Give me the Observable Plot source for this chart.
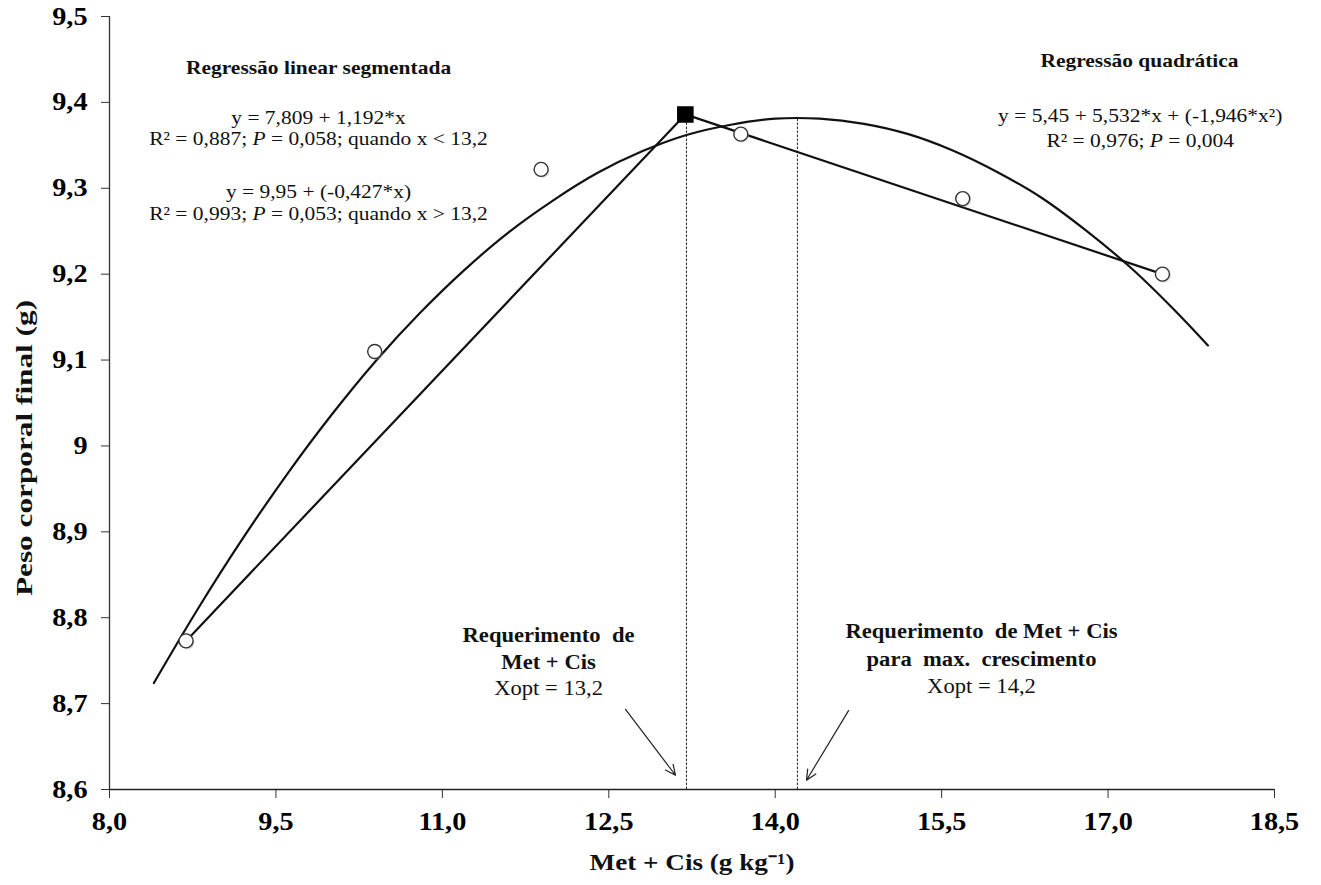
<!DOCTYPE html>
<html>
<head>
<meta charset="utf-8">
<script src="https://cdn.jsdelivr.net/npm/d3@7"></script>
<script src="https://cdn.jsdelivr.net/npm/@observablehq/plot@0.6"></script>
<style>
  html, body { margin: 0; padding: 0; background: #fff; }
  #chart svg { display: block; }
</style>
</head>
<body>
<div id="chart"></div>
<script>
// Observed data points (Met + Cis, g/kg ; final body weight, g)
const obsX = [8.69, 10.39, 11.89, 13.69, 15.69, 17.49];
const obsY = [8.773, 9.110, 9.322, 9.363, 9.288, 9.200];

// Segmented linear regression (break point = 13.2)
const segX = [8.69, 13.19, 17.49];
const segY = [8.773, 9.386, 9.200];
const breakX = [13.19];
const breakY = [9.386];

// Quadratic regression curve
const quadX = [8.4, 8.8, 9.2, 9.6, 10.0, 10.4, 10.8, 11.2, 11.6, 12.0, 12.4, 12.8, 13.2, 13.6, 14.0, 14.4, 14.8, 15.2, 15.6, 16.0, 16.4, 16.8, 17.2, 17.6, 17.9];
const quadY = [8.724, 8.811, 8.892, 8.967, 9.036, 9.099, 9.155, 9.205, 9.249, 9.286, 9.318, 9.343, 9.362, 9.374, 9.381, 9.381, 9.375, 9.363, 9.344, 9.319, 9.289, 9.251, 9.208, 9.158, 9.117];

// Optimum requirement lines
const optX = [13.2, 14.2];
const optTop = [9.386, 9.381];

// Ticks
const xTicks = [8.0, 9.5, 11.0, 12.5, 14.0, 15.5, 17.0, 18.5];
const xTickLabels = ["8,0", "9,5", "11,0", "12,5", "14,0", "15,5", "17,0", "18,5"];
const yTicks = [8.6, 8.7, 8.8, 8.9, 9.0, 9.1, 9.2, 9.3, 9.4, 9.5];
const yTickLabels = ["8,6", "8,7", "8,8", "8,9", "9", "9,1", "9,2", "9,3", "9,4", "9,5"];

const xTitle = "Met + Cis (g kg⁻¹)";
const yTitle = "Peso corporal final (g)";

const obs = obsX.map((x, i) => ({x, y: obsY[i]}));
const seg = segX.map((x, i) => ({x, y: segY[i]}));
const quad = quadX.map((x, i) => ({x, y: quadY[i]}));
const brk = breakX.map((x, i) => ({x, y: breakY[i]}));
const opt = optX.map((x, i) => ({x, top: optTop[i]}));

const serif = "'Liberation Serif', 'Times New Roman', serif";

const boldNotes = [
  {x: 9.884, y: 9.4406, t: "Regressão linear segmentada", s: 19},
  {x: 17.283, y: 9.4488, t: "Regressão quadrática", s: 19},
  {x: 11.957, y: 8.7796, t: "Requerimento  de", s: 20},
  {x: 11.957, y: 8.7481, t: "Met + Cis", s: 20},
  {x: 15.859, y: 8.7834, t: "Requerimento  de Met + Cis", s: 20},
  {x: 15.859, y: 8.7516, t: "para  max.  crescimento", s: 20}
];
const plainNotes = [
  {x: 9.884, y: 9.3825, t: "y = 7,809 + 1,192*x", s: 19},
  {x: 9.884, y: 9.358, t: "R² = 0,887; P = 0,058; quando x < 13,2", s: 19},
  {x: 9.884, y: 9.2963, t: "y = 9,95 + (-0,427*x)", s: 19},
  {x: 9.884, y: 9.2707, t: "R² = 0,993; P = 0,053; quando x > 13,2", s: 19},
  {x: 17.29, y: 9.3848, t: "y = 5,45 + 5,532*x + (-1,946*x²)", s: 19},
  {x: 17.29, y: 9.3557, t: "R² = 0,976; P = 0,004", s: 19},
  {x: 11.957, y: 8.7179, t: "Xopt = 13,2", s: 20},
  {x: 15.859, y: 8.7194, t: "Xopt = 14,2", s: 20}
];

const arrows = [
  {x1: 12.651, y1: 8.6934, x2: 13.101, y2: 8.6166},
  {x1: 14.661, y1: 8.6919, x2: 14.282, y2: 8.6108}
];

const chart = Plot.plot({
  width: 1321,
  height: 885,
  marginLeft: 109,
  marginRight: 47,
  marginTop: 16,
  marginBottom: 96,
  style: {fontFamily: serif, background: "white", color: "black"},
  x: {domain: [8.0, 18.5]},
  y: {domain: [8.6, 9.5]},
  marks: [
    Plot.axisX(xTicks, {tickSize: 9, tickPadding: 14, tickFormat: (d, i) => xTickLabels[i], fontSize: 25, fontWeight: "bold", label: null, stroke: "#333"}),
    Plot.axisY(yTicks, {tickSize: 8, tickPadding: 14, tickFormat: (d, i) => yTickLabels[i], fontSize: 25, fontWeight: "bold", label: null, stroke: "#333"}),
    Plot.ruleX([8.0], {stroke: "#333", strokeWidth: 1.3}),
    Plot.ruleY([8.6], {stroke: "#222", strokeWidth: 1.3}),
    Plot.ruleX(opt, {x: "x", y1: 8.6, y2: "top", stroke: "#222", strokeWidth: 1, strokeDasharray: "2.5,1.5"}),
    Plot.line(quad, {x: "x", y: "y", curve: "catmull-rom", stroke: "#111", strokeWidth: 2.2}),
    Plot.line(seg, {x: "x", y: "y", stroke: "#111", strokeWidth: 2.2}),
    Plot.dot(obs, {x: "x", y: "y", r: 7, dx: 1.5, dy: 1.5, fill: "#999", fillOpacity: 0.35, stroke: "none"}),
    Plot.dot(obs, {x: "x", y: "y", r: 7, fill: "white", stroke: "#333", strokeWidth: 1.4}),
    Plot.dot(brk, {x: "x", y: "y", r: 8.5, symbol: "square", fill: "black", stroke: "black"}),
    Plot.arrow(arrows, {x1: "x1", y1: "y1", x2: "x2", y2: "y2", stroke: "#222", strokeWidth: 1.2, headLength: 14, headAngle: 50}),
    Plot.text(boldNotes, {x: "x", y: "y", text: "t", fontWeight: "bold", fontSize: "s", fill: "#111", textAnchor: "middle"}),
    Plot.text(plainNotes, {x: "x", y: "y", text: "t", fontWeight: "normal", fontSize: "s", fill: "#111", textAnchor: "middle"}),
    Plot.text([xTitle], {frameAnchor: "bottom", dy: 80, fontSize: 23, fontWeight: "bold", fill: "#111", textAnchor: "middle"}),
    Plot.text([yTitle], {frameAnchor: "left", dx: -85, dy: 45, rotate: -90, fontSize: 23, fontWeight: "bold", fill: "#111", textAnchor: "middle"})
  ]
});

// italic P in the statistics lines
d3.select(chart).selectAll("text").each(function () {
  const t = this.textContent;
  if (t.includes("P =")) {
    const parts = t.split("P =");
    const sel = d3.select(this);
    sel.text(null);
    sel.append("tspan").text(parts[0]);
    sel.append("tspan").attr("font-style", "italic").text("P");
    sel.append("tspan").text(" =" + parts[1]);
  }
});

document.getElementById("chart").appendChild(chart);

// the reference typography is horizontally wider than the font's natural width
d3.select(chart).selectAll("text").each(function () {
  const t = this.textContent;
  let k = 1.13;
  if (t === yTitle) k = 1.36;
  else if (t === xTitle) k = 1.18;
  const L = this.getComputedTextLength();
  if (L > 0) {
    this.setAttribute("textLength", (L * k).toFixed(1));
    this.setAttribute("lengthAdjust", "spacingAndGlyphs");
  }
});
</script>
</body>
</html>
